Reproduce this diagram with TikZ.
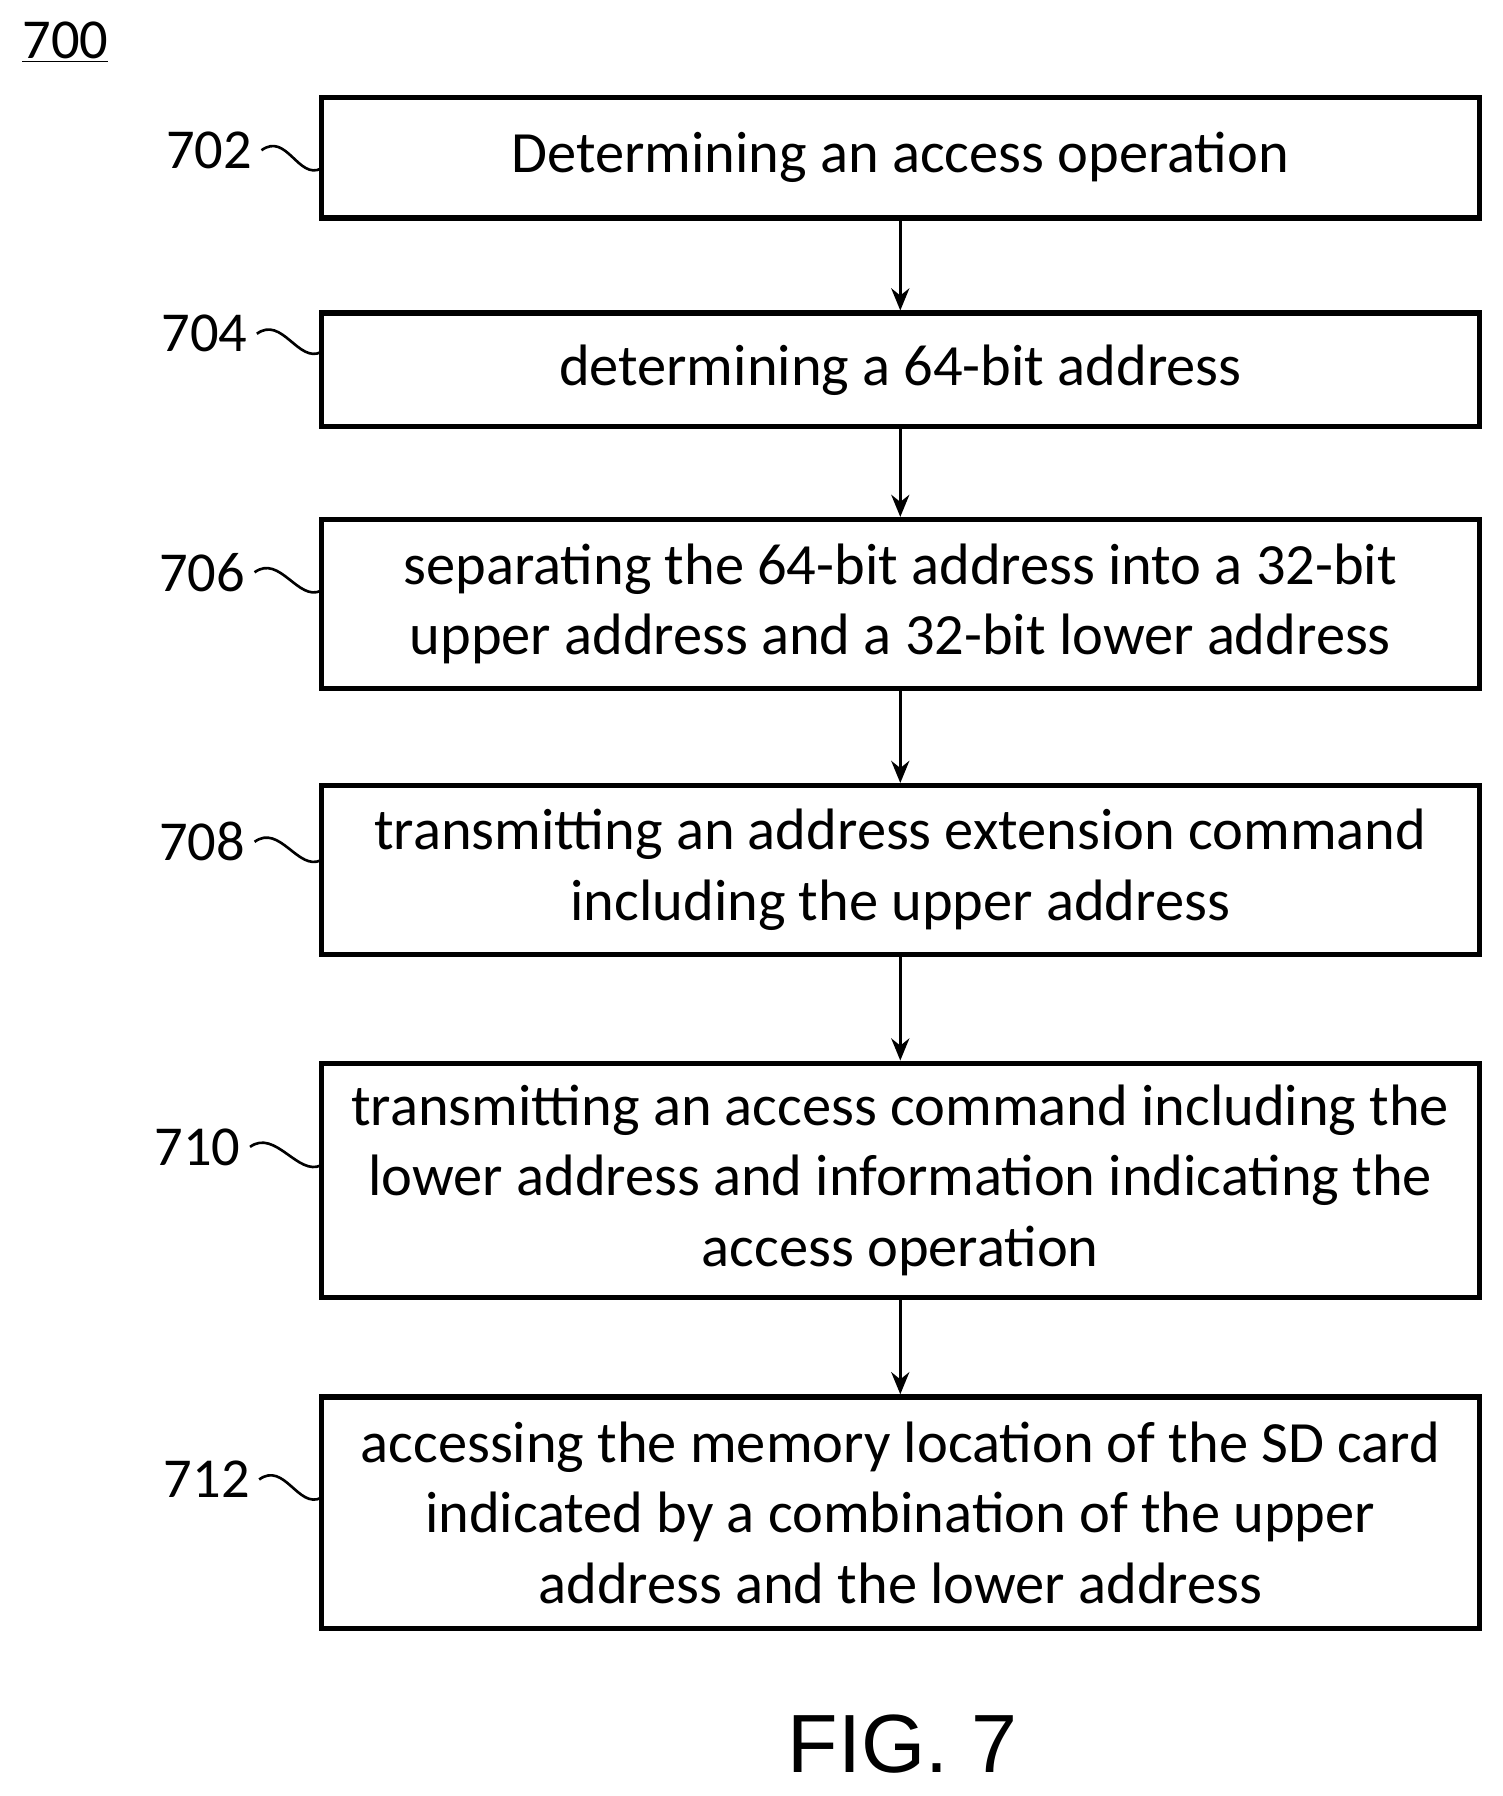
\documentclass[tikz,border=0pt]{standalone}
\usepackage{fontspec}
\usetikzlibrary{arrows.meta,calc}
\setmainfont{Carlito}
\newfontfamily\figfont{Liberation Sans}
\begin{document}
\begin{tikzpicture}[x=0.02cm,y=-0.02cm,
 box/.style={draw,line width=2.6pt,minimum width=1010*0.02cm,align=center,inner sep=0pt,font=\fontsize{29}{35}\selectfont},
 lab/.style={font=\fontsize{28}{30}\selectfont,inner sep=0pt},
 arr/.style={line width=1.4pt,-{Stealth[length=11pt,width=9pt]}},
 sq/.style={line width=1.3pt}]
\useasboundingbox (0,0) rectangle (1310,1566);
\node[font=\fontsize{28}{30}\selectfont] (t) at (57,37) {\underline{700}};
\node[box,minimum height=105*0.02cm] (b1) at (785,137.5) {Determining an access operation};
\node[box,minimum height=99*0.02cm] (b2) at (785,322.5) {determining a 64-bit address};
\node[box,minimum height=147*0.02cm] (b3) at (785,526.5) {separating the 64-bit address into a 32-bit\\upper address and a 32-bit lower address};
\node[box,minimum height=147*0.02cm] (b4) at (785,758.5) {transmitting an address extension command\\including the upper address};
\node[box,minimum height=204*0.02cm] (b5) at (785,1029) {transmitting an access command including the\\lower address and information indicating the\\access operation};
\node[box,minimum height=202*0.02cm] (b6) at (785,1319) {accessing the memory location of the SD card\\indicated by a combination of the upper\\address and the lower address};
\foreach \a/\b in {b1/b2,b2/b3,b3/b4,b4/b5,b5/b6} \draw[arr] (\a.south) -- (\b.north);
\foreach \n/\lx/\ly in {702/182/131,704/178/291,706/176/499,708/176/734,710/172/1000,712/180/1290}{
 \node[lab,anchor=east] (l\n) at (\lx+38,\ly) {\n};
 \coordinate (s\n) at (\lx+46,\ly);
 \coordinate (e\n) at (280,\ly+16);
 \draw[sq] (s\n) .. controls ($(s\n)+(22,-16)$) and ($(e\n)+(-20,10)$) .. (e\n);
}
\node[font=\figfont\fontsize{41}{45}\selectfont] (fig) at (787,1521) {FIG. 7};
\end{tikzpicture}
\end{document}
